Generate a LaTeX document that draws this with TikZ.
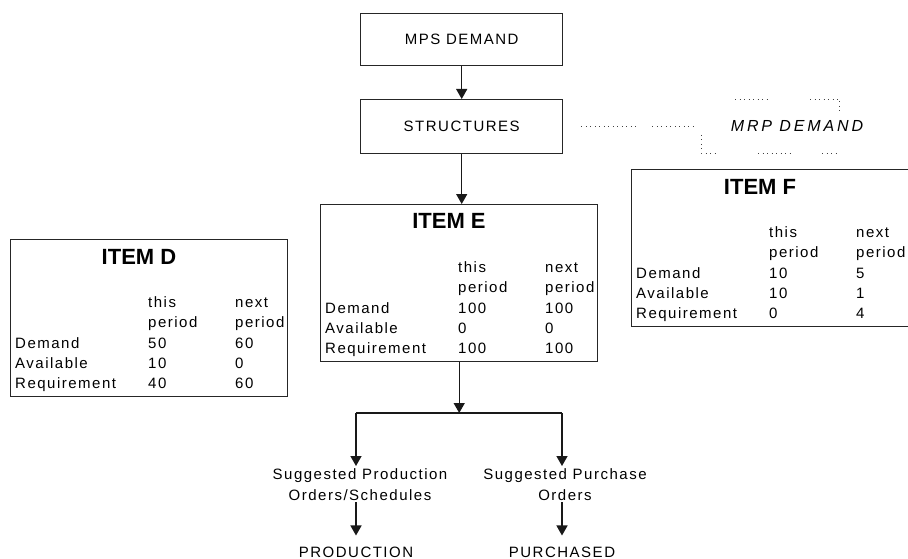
\documentclass[tikz,border=0pt]{standalone}
\usepackage{fontspec}
\setmainfont{Liberation Sans}
\newfontfamily\spacedfont{Liberation Sans}[LetterSpace=10]
\usetikzlibrary{arrows.meta}

\tikzset{
  txt/.style={font=\spacedfont\fontsize{15}{21}\selectfont, inner sep=0pt},
  flowbox/.style={txt, draw=black!85, line width=1.4pt, anchor=north west,
    minimum width=202pt, minimum height=52pt},
  itembox/.style={draw=black!85, line width=1.4pt, anchor=north west,
    minimum width=277pt, minimum height=157pt, inner sep=0pt},
  itemtitle/.style={font=\bfseries\fontsize{22}{24}\selectfont, inner sep=0pt, anchor=base},
  cell/.style={txt, anchor=base west},
  flow/.style={line width=1.4pt, draw=black!90},
  arrow/.style={flow, -{Triangle[width=11pt,length=10pt]}},
  dotline/.style={draw=black!75, line width=0.9pt, dash pattern=on 0.9pt off 3.6pt},
}

% One inventory table: #1 letter, #2 position of the top-left corner,
% #3-#5 values of this period, #6-#8 values of next period
\newcommand\ItemTable[8]{%
  \begin{scope}[shift={#2}]
    \node[itembox] (item#1) at (0,0) {};
    \node[itemtitle] (item#1-title) at (129,25) {ITEM #1};
    \node[cell] (item#1-h1) at (138,68) {this};
    \node[cell] (item#1-h2) at (225,68) {next};
    \node[cell] (item#1-p1) at (138,88) {period};
    \node[cell] (item#1-p2) at (225,88) {period};
    \node[cell] (item#1-l1) at (5,109) {Demand};
    \node[cell] (item#1-l2) at (5,129) {Available};
    \node[cell] (item#1-l3) at (5,149) {Requirement};
    \node[cell] (item#1-a1) at (138,109) {#3};
    \node[cell] (item#1-a2) at (138,129) {#4};
    \node[cell] (item#1-a3) at (138,149) {#5};
    \node[cell] (item#1-b1) at (225,109) {#6};
    \node[cell] (item#1-b2) at (225,129) {#7};
    \node[cell] (item#1-b3) at (225,149) {#8};
  \end{scope}}

\begin{document}
\begin{tikzpicture}[x=1pt,y=-1pt]
  \useasboundingbox (0,0) rectangle (908,559);

  % top of the flow
  \node[flowbox] (mps) at (360,13) {MPS DEMAND};
  \node[flowbox, minimum height=54pt] (struct) at (360,99) {STRUCTURES};

  % the three item tables
  \ItemTable{D}{(10,239)}{50}{10}{40}{60}{0}{60}
  \ItemTable{E}{(320,204)}{100}{0}{100}{100}{0}{100}
  \ItemTable{F}{(631,169)}{10}{10}{0}{5}{1}{4}

  % dependent demand label with its broken dotted frame
  \node[txt, font=\spacedfont\itshape\fontsize{16}{20}\selectfont\addfontfeatures{LetterSpace=18}]
    (mrp) at (797,126) {MRP DEMAND};
  \draw[dotline] ([xshift=18pt]struct.east) -- ([xshift=73pt]struct.east);
  \draw[dotline] ([xshift=89pt]struct.east) -- ([xshift=131pt]struct.east);
  \coordinate (fl) at (701,135);
  \coordinate (fr) at (839,112);
  \draw[dotline] (fl) -- (fl |- 0,153) -- (717,153);
  \draw[dotline] (758,153) -- (793,153);
  \draw[dotline] (822,153) -- (838,153);
  \draw[dotline] (735,99) -- (768,99);
  \draw[dotline] (810,99) -- (fr |- 0,99) -- (fr);

  % outputs
  \node[txt, align=center, anchor=north, inner ysep=2pt] (sugprod) at (360,466)
    {Suggested Production\\Orders/Schedules};
  \node[txt, align=center, anchor=north, inner ysep=2pt] (sugpur) at (565,466)
    {Suggested Purchase\\Orders};
  \node[txt] (production) at (356,552) {PRODUCTION};
  \node[txt] (purchased) at (562,552) {PURCHASED};

  % connectors
  \draw[arrow] (mps.south) -- (struct.north);
  \draw[arrow] (struct.south) -- (struct.south |- itemE.north);
  \coordinate (split) at (itemE.south |- 0,413);
  \coordinate (splitL) at (production.north |- split);
  \coordinate (splitR) at (purchased.north |- split);
  \draw[arrow] (itemE.south) -- (split);
  \draw[flow] (splitL) -- (splitR);
  \draw[arrow] (splitL) -- (splitL |- sugprod.north);
  \draw[arrow] (splitR) -- (splitR |- sugpur.north);
  \draw[arrow, shorten >=11pt] (production.north |- sugprod.south) -- (production.north);
  \draw[arrow, shorten >=11pt] (purchased.north |- sugpur.south) -- (purchased.north);
\end{tikzpicture}
\end{document}
